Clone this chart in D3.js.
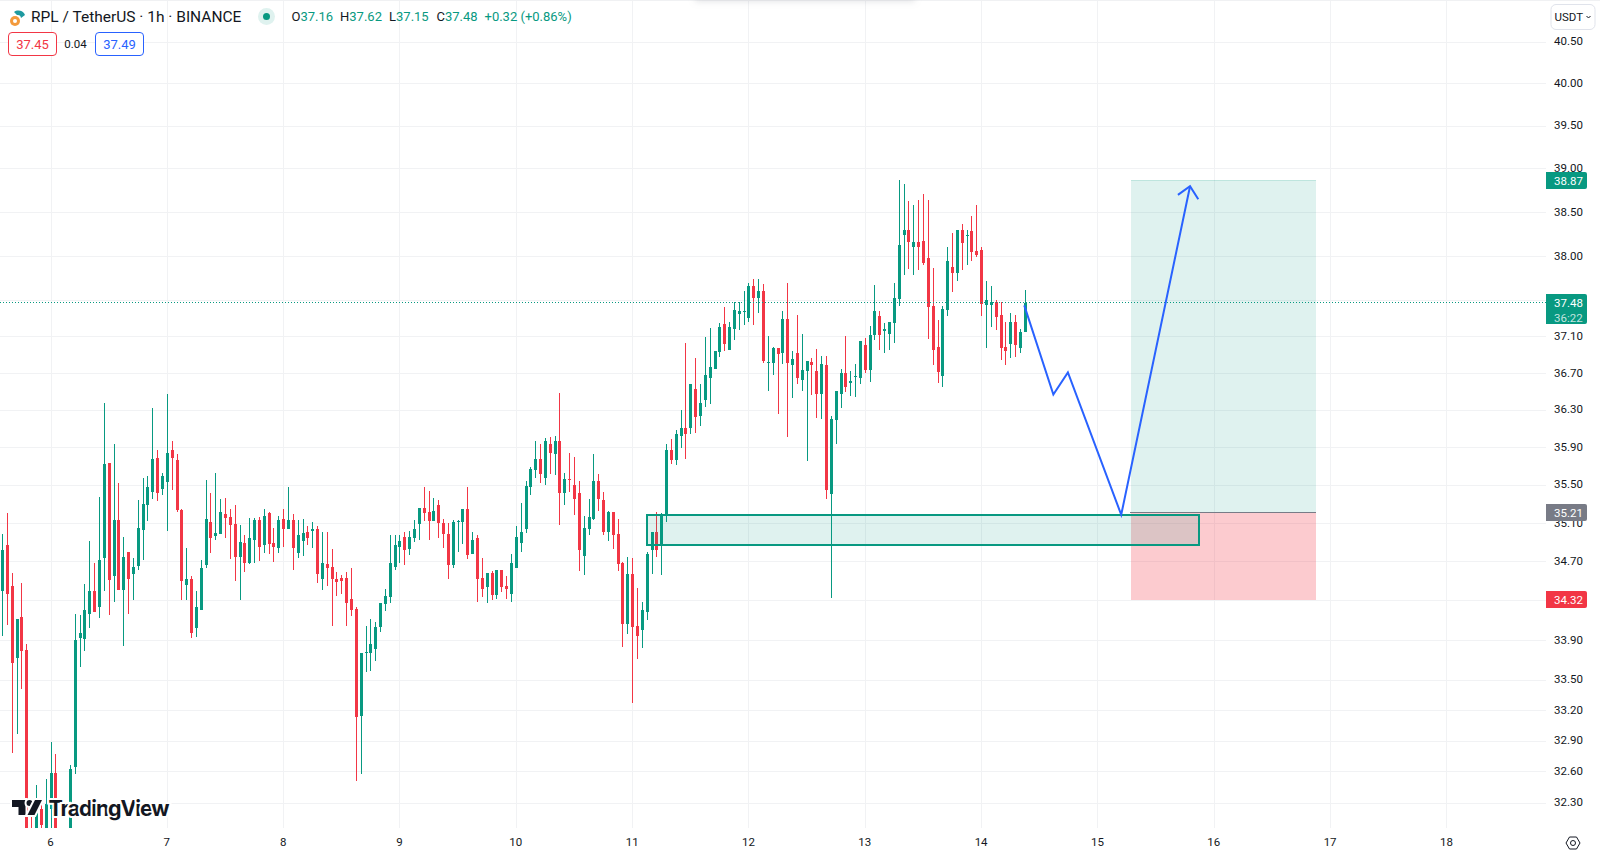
<!DOCTYPE html>
<html>
<head>
<meta charset="utf-8">
<title>RPL / TetherUS</title>
<script src="https://cdn.jsdelivr.net/npm/d3@7"></script>
<style>
	html, body { margin: 0; padding: 0; background: #fff; overflow: hidden; }
	svg { display: block; }
	text { font-family: Roboto, sans-serif; }
	.axis text { font-size: 11.5px; fill: #131722; }
	.axis .domain { display: none; }
</style>
</head>
<body>
<div id="chart-area"></div>
<script>
// first candle is hour -10, hour 0 is the start of day 6
var firstHour = -10;

var opens = [
	34.40,34.87,34.45,33.72,34.14,33.80,32.02,31.95,32.24,31.98,
	32.24,32.59,32.02,31.96,32.00,32.65,33.92,33.91,34.17,34.40,
	34.24,34.74,35.74,34.56,35.14,34.41,34.80,34.58,34.66,35.03,
	35.29,35.43,35.79,35.46,35.53,35.87,35.77,35.24,34.46,34.52,
	34.02,34.21,34.67,35.11,34.97,34.99,35.20,35.17,35.09,34.75,
	34.90,34.69,34.93,35.13,34.88,35.21,34.90,34.84,35.15,35.04,
	35.14,34.79,34.92,35.01,35.02,35.04,34.52,34.68,34.65,34.52,
	34.53,34.53,34.32,34.22,33.15,33.77,33.77,33.81,34.03,34.27,
	34.34,34.65,34.85,34.96,34.83,34.95,35.09,35.26,35.22,35.12,
	35.29,35.10,34.99,34.67,35.11,35.11,35.25,34.78,34.95,34.53,
	34.44,34.59,34.36,34.62,34.45,34.37,34.64,34.90,35.04,35.48,
	35.66,35.78,35.58,35.94,35.83,35.97,35.42,35.57,35.50,35.42,
	34.76,35.04,35.15,35.55,35.34,35.01,35.22,34.99,34.69,34.07,
	34.58,34.05,34.00,34.19,34.82,35.01,34.87,35.18,35.87,35.77,
	36.02,36.11,36.11,36.53,36.24,36.41,36.65,36.75,36.93,37.24,
	36.96,37.19,37.35,37.38,37.31,37.67,37.53,37.61,36.81,36.81,
	36.98,36.92,37.30,36.79,36.92,36.63,36.73,36.83,36.73,36.48,
	36.79,35.41,36.19,36.48,36.70,36.60,36.66,36.65,37.01,36.74,
	37.12,37.33,37.17,37.13,37.25,37.52,38.24,38.30,38.10,38.16,
	38.17,37.98,37.44,36.99,36.67,37.40,37.88,37.81,38.30,38.23,
	38.29,38.06,38.07,37.45,37.45,37.49,37.34,36.99,37.02,37.26,
	36.98,37.16
];

var highs = [
	34.99,35.21,34.59,34.12,34.48,33.86,32.24,32.47,32.30,32.53,
	32.89,32.77,32.06,32.00,32.67,34.17,34.16,34.47,34.92,34.69,
	35.38,36.38,35.74,35.94,35.52,34.96,34.80,34.74,35.34,35.58,
	35.60,36.32,35.87,35.63,36.48,35.97,35.83,35.25,34.84,34.55,
	34.40,34.72,35.56,35.42,35.63,35.35,35.37,35.25,35.29,35.08,
	34.98,35.16,35.16,35.17,35.25,35.22,35.05,35.18,35.25,35.48,
	35.20,35.14,35.15,35.07,35.11,35.07,35.01,35.01,34.83,34.60,
	34.57,34.60,34.64,34.24,33.77,34.05,34.12,34.09,34.28,34.42,
	34.98,34.98,34.98,35.01,35.02,35.13,35.26,35.48,35.44,35.37,
	35.34,35.15,35.10,35.13,35.14,35.25,35.48,35.01,34.98,34.74,
	34.59,34.61,34.62,34.62,34.55,34.78,35.07,35.31,35.55,35.69,
	35.97,35.94,36.00,36.01,36.02,36.49,35.63,35.84,35.80,35.55,
	35.18,35.36,35.83,35.62,35.43,35.23,35.22,35.15,34.70,34.75,
	34.74,34.43,34.29,34.80,35.01,35.22,35.21,35.94,35.99,36.09,
	36.30,37.03,36.59,36.87,36.59,37.10,37.20,36.94,37.25,37.43,
	37.27,37.49,37.49,37.61,37.70,37.74,37.75,37.69,37.11,36.99,
	36.98,37.39,37.70,36.95,37.34,37.13,36.84,36.87,36.97,36.89,
	36.89,36.24,36.51,36.75,37.11,36.73,36.80,37.05,37.09,37.22,
	37.68,37.39,37.25,37.27,37.70,38.87,38.83,38.63,38.58,38.64,
	38.71,38.64,37.87,37.29,37.44,38.10,38.26,38.30,38.37,38.30,
	38.46,38.58,38.11,37.72,37.67,37.51,37.49,37.26,37.36,37.34,
	37.19,37.62
];

var lows = [
	33.94,34.06,32.78,32.97,33.41,31.90,31.95,31.90,32.05,31.95,
	31.95,31.95,31.95,31.92,31.95,32.58,33.63,33.79,34.02,34.19,
	34.13,34.40,34.16,34.29,34.41,33.84,34.17,34.31,34.62,34.72,
	35.12,35.36,35.33,35.40,35.02,35.45,35.22,34.31,34.31,33.92,
	33.93,34.21,34.64,34.79,34.93,34.99,34.95,34.73,34.50,34.31,
	34.60,34.68,34.69,34.71,34.79,34.78,34.70,34.79,34.85,35.04,
	34.62,34.74,34.76,34.88,34.84,34.48,34.41,34.45,34.05,34.35,
	34.37,34.05,34.15,32.51,32.58,33.58,33.59,33.69,33.98,34.20,
	34.28,34.62,34.69,34.67,34.77,34.91,34.93,35.12,34.93,35.12,
	34.95,34.84,34.52,34.64,34.80,34.89,34.73,34.78,34.29,34.34,
	34.28,34.31,34.32,34.39,34.32,34.29,34.64,34.80,35.00,35.40,
	35.58,35.52,35.50,35.62,35.61,35.08,35.29,35.43,35.19,34.61,
	34.57,34.98,35.13,35.23,34.98,34.92,34.83,34.61,33.83,33.96,
	33.27,33.71,33.82,34.11,34.58,34.75,34.57,35.11,35.72,35.71,
	35.90,35.78,36.05,36.06,36.13,36.34,36.37,36.75,36.88,36.94,
	36.96,37.07,37.18,37.23,37.27,37.23,37.37,36.81,36.51,36.68,
	36.26,36.80,36.01,36.43,36.59,36.51,35.76,36.46,36.22,36.21,
	35.35,34.33,35.94,36.32,36.50,36.45,36.44,36.59,36.70,36.61,
	37.07,36.96,36.92,36.96,37.03,37.44,37.79,37.86,37.79,37.85,
	37.90,37.08,36.79,36.60,36.55,37.33,37.60,37.72,37.85,37.90,
	37.95,37.99,37.33,36.98,37.21,37.18,36.85,36.79,36.87,36.88,
	36.92,37.15
];

var closes = [
	34.82,34.37,33.67,34.12,33.79,31.95,31.98,32.21,32.09,32.29,
	32.59,32.00,31.98,31.99,32.63,33.90,33.97,34.21,34.40,34.19,
	34.72,35.72,34.51,35.14,34.41,34.75,34.52,34.65,35.05,35.30,
	35.48,35.78,35.42,35.60,35.84,35.79,35.24,34.50,34.52,33.97,
	34.24,34.64,35.15,34.95,35.00,35.22,35.16,35.08,34.75,34.91,
	34.69,34.95,35.13,34.85,35.18,34.89,34.85,35.13,35.04,35.13,
	34.84,34.98,35.00,34.95,35.04,34.58,34.69,34.64,34.52,34.49,
	34.50,34.28,34.21,33.14,33.77,33.78,33.86,34.04,34.28,34.35,
	34.69,34.87,34.92,34.82,34.96,35.04,35.26,35.21,35.12,35.23,
	35.10,34.99,34.67,35.11,35.12,35.25,34.77,34.93,34.52,34.42,
	34.59,34.36,34.62,34.44,34.42,34.69,34.96,35.01,35.49,35.67,
	35.78,35.62,35.97,35.84,35.97,35.42,35.57,35.56,35.36,34.82,
	35.05,35.17,35.55,35.36,35.01,35.22,34.98,34.68,34.07,34.58,
	34.03,33.94,34.21,34.78,35.01,34.82,35.19,35.87,35.77,36.04,
	36.11,36.05,36.59,36.23,36.38,36.68,36.77,36.94,37.21,37.02,
	37.21,37.40,37.39,37.39,37.67,37.53,37.61,36.84,36.82,36.98,
	36.91,37.30,36.81,36.86,36.65,36.74,36.84,36.79,36.48,36.80,
	35.45,36.21,36.51,36.70,36.55,36.62,36.67,37.05,36.74,37.12,
	37.39,37.12,37.19,37.27,37.53,38.13,38.30,38.16,38.16,38.10,
	37.92,37.43,36.96,36.71,37.41,37.95,37.81,38.30,38.15,38.24,
	38.05,38.02,37.46,37.51,37.49,37.32,36.98,36.95,37.26,37.01,
	37.15,37.48
];

var priceTicks = [40.5,40,39.5,39,38.5,38,37.5,37.1,36.7,36.3,35.9,35.5,35.1,34.7,34.3,33.9,33.5,33.2,32.9,32.6,32.3];
var dayLabels = [6,7,8,9,10,11,12,13,14,15,16,17,18];
var dayHours = [0,24,48,72,96,120,144,168,192,216,240,264,288];

// Drawings (hour, price)
var pathHours = [200.8,206.8,209.8,220.8,235];
var pathPrices = [37.45,36.47,36.71,35.19,38.80];
var arrowHours = [232.5,235,236.7];
var arrowPrices = [38.70,38.80,38.65];
var zoneHours = [123,236.8];
var zonePrices = [35.19,34.87];
var positionHours = [222.85,261];
var positionPrices = { target: 38.87, entry: 35.21, stop: 34.32 };
var lastPrice = 37.48;

var upColor = "#089981", downColor = "#f23645", blue = "#2962ff", ink = "#131722", gridColor = "#f1f2f4";

var plotRight = 1546, plotBottom = 828;

var svg = d3.select("#chart-area")
	.append("svg")
	.attr("width", 1600)
	.attr("height", 857);

var defs = svg.append("defs");
defs.append("clipPath").attr("id", "plot-clip")
	.append("rect")
	.attr("width", plotRight)
	.attr("height", plotBottom);
defs.append("filter").attr("id", "soft")
	.attr("x", "-10%").attr("y", "-200%").attr("width", "120%").attr("height", "500%")
	.append("feGaussianBlur").attr("stdDeviation", 3);

// Scales
var x = d3.scaleLinear().domain([0, 288]).range([51, 51 + 288 * 4.847]);
var y = d3.scaleLog().domain([32.3, 40.5]).range([803, 42]);

var candles = opens.map(function (o, i) {
	return { hour: firstHour + i, open: o, high: highs[i], low: lows[i], close: closes[i] };
});

var plot = svg.append("g").attr("clip-path", "url(#plot-clip)");

// Top edge
svg.append("line")
	.attr("x1", 0).attr("x2", 1600)
	.attr("y1", 0.5).attr("y2", 0.5)
	.attr("stroke", "#f0f1f3");

// Grid
plot.append("g").selectAll("line")
	.data(priceTicks)
	.enter()
	.append("line")
	.attr("x1", 0)
	.attr("x2", plotRight)
	.attr("y1", function (d) { return Math.floor(y(d)) + 0.5 })
	.attr("y2", function (d) { return Math.floor(y(d)) + 0.5 })
	.attr("stroke", gridColor);

plot.append("g").selectAll("line")
	.data(dayHours)
	.enter()
	.append("line")
	.attr("x1", function (d) { return Math.floor(x(d)) + 0.5 })
	.attr("x2", function (d) { return Math.floor(x(d)) + 0.5 })
	.attr("y1", 0)
	.attr("y2", plotBottom)
	.attr("stroke", gridColor);

// Candles
var candleColor = function (d) { return d.close >= d.open ? upColor : downColor };

plot.append("g").selectAll("rect")
	.data(candles)
	.enter()
	.append("rect")
	.attr("x", function (d) { return Math.floor(x(d.hour)) })
	.attr("width", 1)
	.attr("y", function (d) { return Math.round(y(d.high)) })
	.attr("height", function (d) { return Math.round(y(d.low)) - Math.round(y(d.high)) })
	.attr("fill", candleColor);

plot.append("g").selectAll("rect")
	.data(candles)
	.enter()
	.append("rect")
	.attr("x", function (d) { return Math.floor(x(d.hour)) - 1 })
	.attr("width", 3)
	.attr("y", function (d) { return Math.round(y(Math.max(d.open, d.close))) })
	.attr("height", function (d) { return Math.max(1, Math.round(y(Math.min(d.open, d.close))) - Math.round(y(Math.max(d.open, d.close)))) })
	.attr("fill", candleColor);

// Last price line
plot.append("line")
	.attr("x1", 0)
	.attr("x2", plotRight)
	.attr("y1", Math.floor(y(lastPrice)) + 0.5)
	.attr("y2", Math.floor(y(lastPrice)) + 0.5)
	.attr("stroke", upColor)
	.attr("stroke-dasharray", "1 2");

// Long position tool
var posLeft = Math.round(x(positionHours[0])), posRight = Math.round(x(positionHours[1]));
var targetY = Math.floor(y(positionPrices.target)), entryY = Math.floor(y(positionPrices.entry)), stopY = Math.round(y(positionPrices.stop)) + 1;

plot.append("rect")
	.attr("x", posLeft)
	.attr("width", posRight - posLeft)
	.attr("y", targetY)
	.attr("height", entryY - targetY)
	.attr("fill", upColor)
	.attr("fill-opacity", 0.13);

plot.append("rect")
	.attr("x", posLeft)
	.attr("width", posRight - posLeft)
	.attr("y", entryY)
	.attr("height", stopY - entryY)
	.attr("fill", downColor)
	.attr("fill-opacity", 0.26);

plot.append("line")
	.attr("x1", posLeft)
	.attr("x2", posRight)
	.attr("y1", targetY + 0.5)
	.attr("y2", targetY + 0.5)
	.attr("stroke", upColor)
	.attr("stroke-opacity", 0.15);

plot.append("line")
	.attr("x1", posLeft - 1)
	.attr("x2", posRight)
	.attr("y1", entryY + 0.5)
	.attr("y2", entryY + 0.5)
	.attr("stroke", "#787b86");

// Demand zone
plot.append("rect")
	.attr("x", Math.round(x(zoneHours[0])))
	.attr("width", Math.round(x(zoneHours[1])) - Math.round(x(zoneHours[0])))
	.attr("y", Math.round(y(zonePrices[0])))
	.attr("height", Math.round(y(zonePrices[1])) - Math.round(y(zonePrices[0])))
	.attr("fill", upColor)
	.attr("fill-opacity", 0.13)
	.attr("stroke", upColor)
	.attr("stroke-width", 2);

// Path with arrow
var line = d3.line()
	.x(function (d) { return x(d[0]) })
	.y(function (d) { return y(d[1]) });

plot.append("path")
	.attr("d", line(d3.zip(pathHours, pathPrices)))
	.attr("fill", "none")
	.attr("stroke", blue)
	.attr("stroke-width", 2);

plot.append("path")
	.attr("d", line(d3.zip(arrowHours, arrowPrices)))
	.attr("fill", "none")
	.attr("stroke", blue)
	.attr("stroke-width", 2);

// TradingView mark
var mark = svg.append("g")
	.attr("fill", "#131722")
	.attr("stroke", "#fff")
	.attr("stroke-width", 4)
	.style("paint-order", "stroke");
mark.append("path").attr("d", "M12 800H25.5V815H18.5V807H12Z");
mark.append("circle").attr("cx", 29.5).attr("cy", 803).attr("r", 3);
mark.append("path").attr("d", "M35 800H42L34.5 815H27.5Z");
mark.append("text")
	.attr("x", 48.5)
	.attr("y", 815.5)
	.style("font-family", "Inter")
	.style("font-size", "21.5px")
	.style("font-weight", 700)
	.attr("textLength", 121)
	.text("TradingView");

// Price axis
var yAxis = d3.axisRight(y)
	.tickValues(priceTicks)
	.tickFormat(d3.format(".2f"))
	.tickSize(0)
	.tickPadding(8);

svg.append("g")
	.attr("class", "axis")
	.attr("transform", "translate(" + plotRight + ",-1)")
	.call(yAxis);

// Time axis
var xAxis = d3.axisBottom(x)
	.tickValues(dayHours)
	.tickFormat(function (d, i) { return dayLabels[i] })
	.tickSize(0)
	.tickPadding(10);

svg.append("g")
	.attr("class", "axis")
	.attr("transform", "translate(-1," + plotBottom + ")")
	.call(xAxis);

// Price badges
var badge = function (top, h, color, label) {
	svg.append("path")
		.attr("d", "M" + plotRight + " " + top + "H1585a2 2 0 0 1 2 2V" + (top + h - 2) + "a2 2 0 0 1 -2 2H" + plotRight + "Z")
		.attr("fill", color);
	svg.append("text")
		.attr("x", 1554)
		.attr("y", top + 12.5)
		.attr("fill", "#fff")
		.style("font-size", "11.5px")
		.text(label);
};
badge(172, 17, upColor, d3.format(".2f")(positionPrices.target));
badge(504, 17, "#787b86", d3.format(".2f")(positionPrices.entry));
badge(591, 17, downColor, d3.format(".2f")(positionPrices.stop));
badge(294, 30, upColor, d3.format(".2f")(lastPrice));
svg.append("text")
	.attr("x", 1554)
	.attr("y", 322)
	.attr("fill", "#fff")
	.attr("fill-opacity", 0.75)
	.style("font-size", "11.5px")
	.text("36:22");

// Currency button
svg.append("rect")
	.attr("x", 1551).attr("y", 4.5)
	.attr("width", 44).attr("height", 25)
	.attr("rx", 5)
	.attr("fill", "#fff")
	.attr("stroke", "#e0e3eb");
svg.append("text")
	.attr("x", 1554.5).attr("y", 21)
	.attr("fill", ink)
	.style("font-size", "11.5px")
	.text("USDT");
svg.append("path")
	.attr("d", "M1586.5 16L1588.5 18L1590.5 16")
	.attr("fill", "none")
	.attr("stroke", ink);

// Settings icon
svg.append("path")
	.attr("d", "M1566 843L1569.5 837H1576.5L1580 843L1576.5 849H1569.5Z")
	.attr("fill", "none")
	.attr("stroke", ink);
svg.append("circle")
	.attr("cx", 1573).attr("cy", 843).attr("r", 2.5)
	.attr("fill", "none")
	.attr("stroke", ink);

// Top toast shadow
svg.append("rect")
	.attr("x", 695).attr("y", -6)
	.attr("width", 220).attr("height", 8)
	.attr("fill", "#9aa0a8")
	.attr("fill-opacity", 0.25)
	.attr("filter", "url(#soft)");

// Legend
svg.append("circle").attr("cx", 15).attr("cy", 21).attr("r", 5).attr("fill", "#f39a3c");
svg.append("circle").attr("cx", 15).attr("cy", 21).attr("r", 2).attr("fill", "#fff");
svg.append("path")
	.attr("d", "M14 12A7 7 0 0 1 25 15L21 18A3.5 3.5 0 0 0 17 15Z")
	.attr("fill", "#1e9aa0");
svg.append("text")
	.attr("x", 31).attr("y", 22)
	.attr("fill", ink)
	.style("font-size", "15.5px")
	.text("RPL / TetherUS · 1h · BINANCE");

svg.append("circle").attr("cx", 266.5).attr("cy", 16.5).attr("r", 8.5).attr("fill", "#dff2ef");
svg.append("circle").attr("cx", 266.5).attr("cy", 16.5).attr("r", 3.5).attr("fill", upColor);

var legendItems = [
	{ x: 291.5, label: "O", value: "37.16" },
	{ x: 340, label: "H", value: "37.62" },
	{ x: 389, label: "L", value: "37.15" },
	{ x: 436.5, label: "C", value: "37.48" }
];
var legend = svg.append("g").selectAll("text")
	.data(legendItems)
	.enter()
	.append("text")
	.attr("x", function (d) { return d.x })
	.attr("y", 21)
	.style("font-size", "13px")
	.attr("fill", ink);
legend.append("tspan").text(function (d) { return d.label });
legend.append("tspan").attr("fill", upColor).text(function (d) { return d.value });
svg.append("text")
	.attr("x", 484.5).attr("y", 21)
	.attr("fill", upColor)
	.style("font-size", "13px")
	.text("+0.32 (+0.86%)");

// Bid / ask boxes
var quote = function (left, color, label) {
	svg.append("rect")
		.attr("x", left).attr("y", 32.5)
		.attr("width", 48).attr("height", 23)
		.attr("rx", 3.5)
		.attr("fill", "#fff")
		.attr("stroke", color);
	svg.append("text")
		.attr("x", left + 24).attr("y", 49)
		.attr("text-anchor", "middle")
		.attr("fill", color)
		.style("font-size", "13px")
		.text(label);
};
quote(8.5, downColor, "37.45");
quote(95.5, blue, "37.49");
svg.append("text")
	.attr("x", 75.5).attr("y", 48)
	.attr("text-anchor", "middle")
	.attr("fill", ink)
	.style("font-size", "11.5px")
	.text("0.04");
</script>
</body>
</html>
